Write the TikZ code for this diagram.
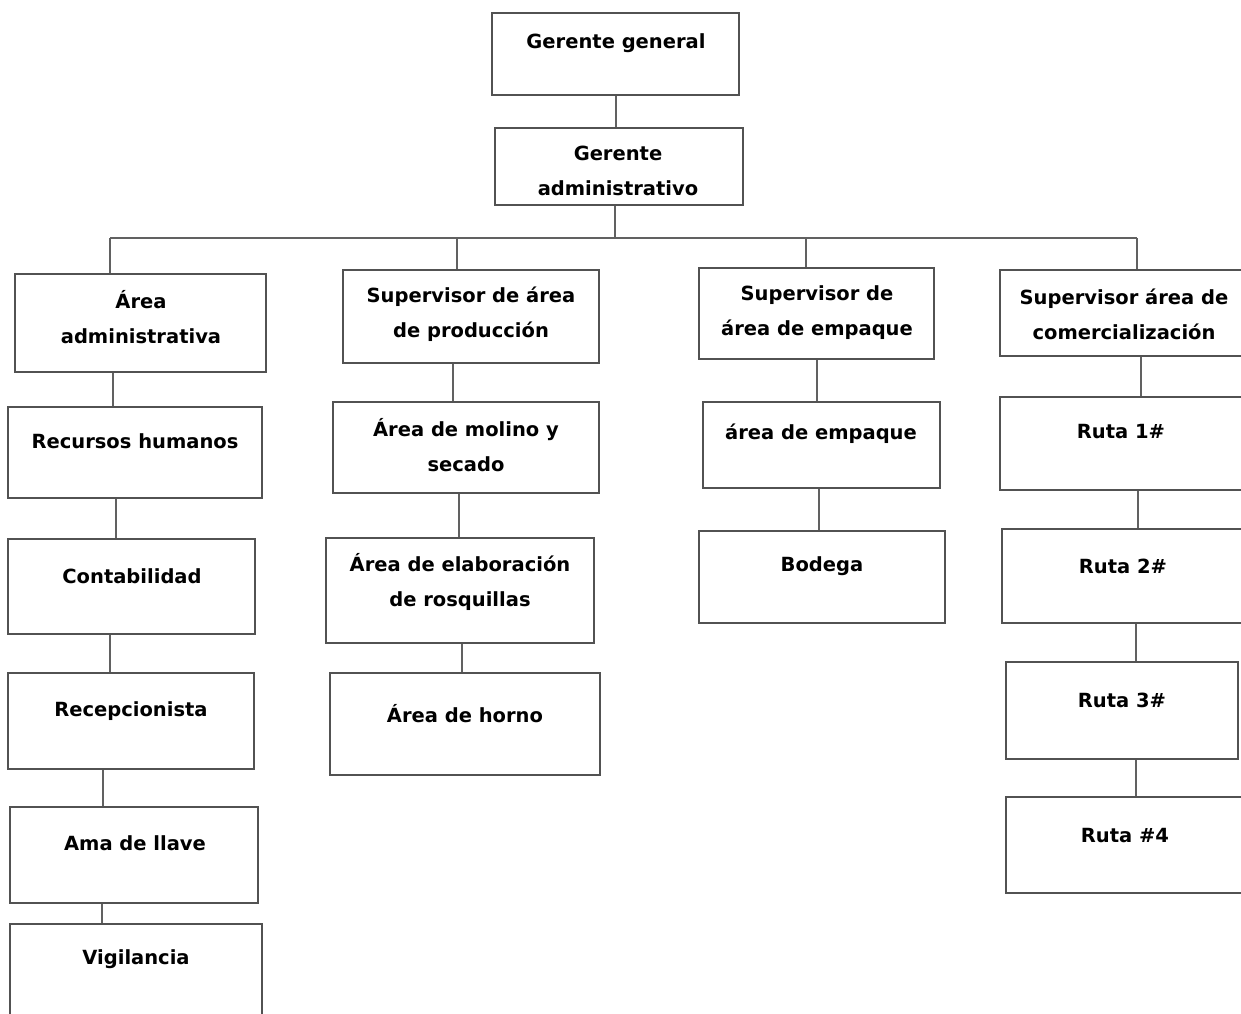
\documentclass[tikz,border=0pt]{standalone}
\usepackage{fontspec}
\setmainfont{DejaVu Sans}
\begin{document}
\begin{tikzpicture}[x=1pt,y=-1pt,
  box/.style={draw=black!68, line width=1.6pt, rectangle, inner sep=0pt},
  lbl/.style={font=\bfseries\fontsize{19.5}{35}\selectfont, align=center, inner sep=0pt, text=black, yshift=-1.5pt},
  link/.style={draw=black!62, line width=1.5pt}]
\useasboundingbox (0,0) rectangle (1241,1013);
\clip (0,0) rectangle (1241,1013);
% box: name, x1, y1, x2, y2
\newcommand\orgbox[5]{%
  \node[box, minimum width={#4-#2}, minimum height={#5-#3}] (#1) at ({(#2+#4)/2},{(#3+#5)/2}) {};}
% top management
\orgbox{gg}{492}{13}{739}{95}
\node[lbl] (tgg) at (616,42) {Gerente general};
\orgbox{ga}{495}{128}{743}{205}
\node[lbl] (tga) at (618,169) {Gerente\\administrativo};
% column 1
\orgbox{aa}{15}{274}{266}{372}
\node[lbl] (taa) at (141,316) {Área\\administrativa};
\orgbox{rh}{8}{407}{262}{498}
\node[lbl] (trh) at (135,440) {Recursos humanos};
\orgbox{co}{8}{539}{255}{634}
\node[lbl] (tco) at (132,575) {Contabilidad};
\orgbox{re}{8}{673}{254}{769}
\node[lbl] (tre) at (131,710) {Recepcionista};
\orgbox{am}{10}{807}{258}{903}
\node[lbl] (tam) at (135,842) {Ama de llave};
\orgbox{vi}{10}{924}{262}{1030}
\node[lbl] (tvi) at (136,958) {Vigilancia};
% column 2
\orgbox{sp}{343}{270}{599}{363}
\node[lbl] (tsp) at (471,313) {Supervisor de área\\de producción};
\orgbox{ms}{333}{402}{599}{493}
\node[lbl] (tms) at (466,444) {Área de molino y\\secado};
\orgbox{er}{326}{538}{594}{643}
\node[lbl] (ter) at (460,580) {Área de elaboración\\de rosquillas};
\orgbox{ho}{330}{673}{600}{775}
\node[lbl] (tho) at (465,712) {Área de horno};
% column 3
\orgbox{se}{699}{268}{934}{359}
\node[lbl] (tse) at (817,311) {Supervisor de\\área de empaque};
\orgbox{ae}{703}{402}{940}{488}
\node[lbl] (tae) at (821,432) {área de empaque};
\orgbox{bo}{699}{531}{945}{623}
\node[lbl] (tbo) at (822,565) {Bodega};
% column 4
\orgbox{sc}{1000}{270}{1260}{356}
\node[lbl] (tsc) at (1124,313) {Supervisor área de\\comercialización};
\orgbox{r1}{1000}{397}{1260}{490}
\node[lbl] (tr1) at (1121,430) {Ruta 1\#};
\orgbox{r2}{1002}{529}{1260}{623}
\node[lbl] (tr2) at (1123,565) {Ruta 2\#};
\orgbox{r3}{1006}{662}{1238}{759}
\node[lbl] (tr3) at (1122,699) {Ruta 3\#};
\orgbox{r4}{1006}{797}{1260}{893}
\node[lbl] (tr4) at (1125,834) {Ruta \#4};
% bus line
\coordinate (busl) at (110,238);
\coordinate (busr) at (1137,238);
\draw[link] (busl) -- (busr);
\draw[link] (gg.south -| 616,0) -- (ga.north -| 616,0);
\draw[link] (ga.south -| 615,0) -- (615,238);
\draw[link] (busl) -- (aa.north -| busl);
\draw[link] (457,238) -- (sp.north -| 457,0);
\draw[link] (806,238) -- (se.north -| 806,0);
\draw[link] (busr) -- (sc.north -| busr);
% column links
\draw[link] (aa.south -| 113,0) -- (rh.north -| 113,0);
\draw[link] (rh.south -| 116,0) -- (co.north -| 116,0);
\draw[link] (co.south -| 110,0) -- (re.north -| 110,0);
\draw[link] (re.south -| 103,0) -- (am.north -| 103,0);
\draw[link] (am.south -| 102,0) -- (vi.north -| 102,0);
\draw[link] (sp.south -| 453,0) -- (ms.north -| 453,0);
\draw[link] (ms.south -| 459,0) -- (er.north -| 459,0);
\draw[link] (er.south -| 462,0) -- (ho.north -| 462,0);
\draw[link] (se.south -| 817,0) -- (ae.north -| 817,0);
\draw[link] (ae.south -| 819,0) -- (bo.north -| 819,0);
\draw[link] (sc.south -| 1141,0) -- (r1.north -| 1141,0);
\draw[link] (r1.south -| 1138,0) -- (r2.north -| 1138,0);
\draw[link] (r2.south -| 1136,0) -- (r3.north -| 1136,0);
\draw[link] (r3.south -| 1136,0) -- (r4.north -| 1136,0);
\end{tikzpicture}
\end{document}
